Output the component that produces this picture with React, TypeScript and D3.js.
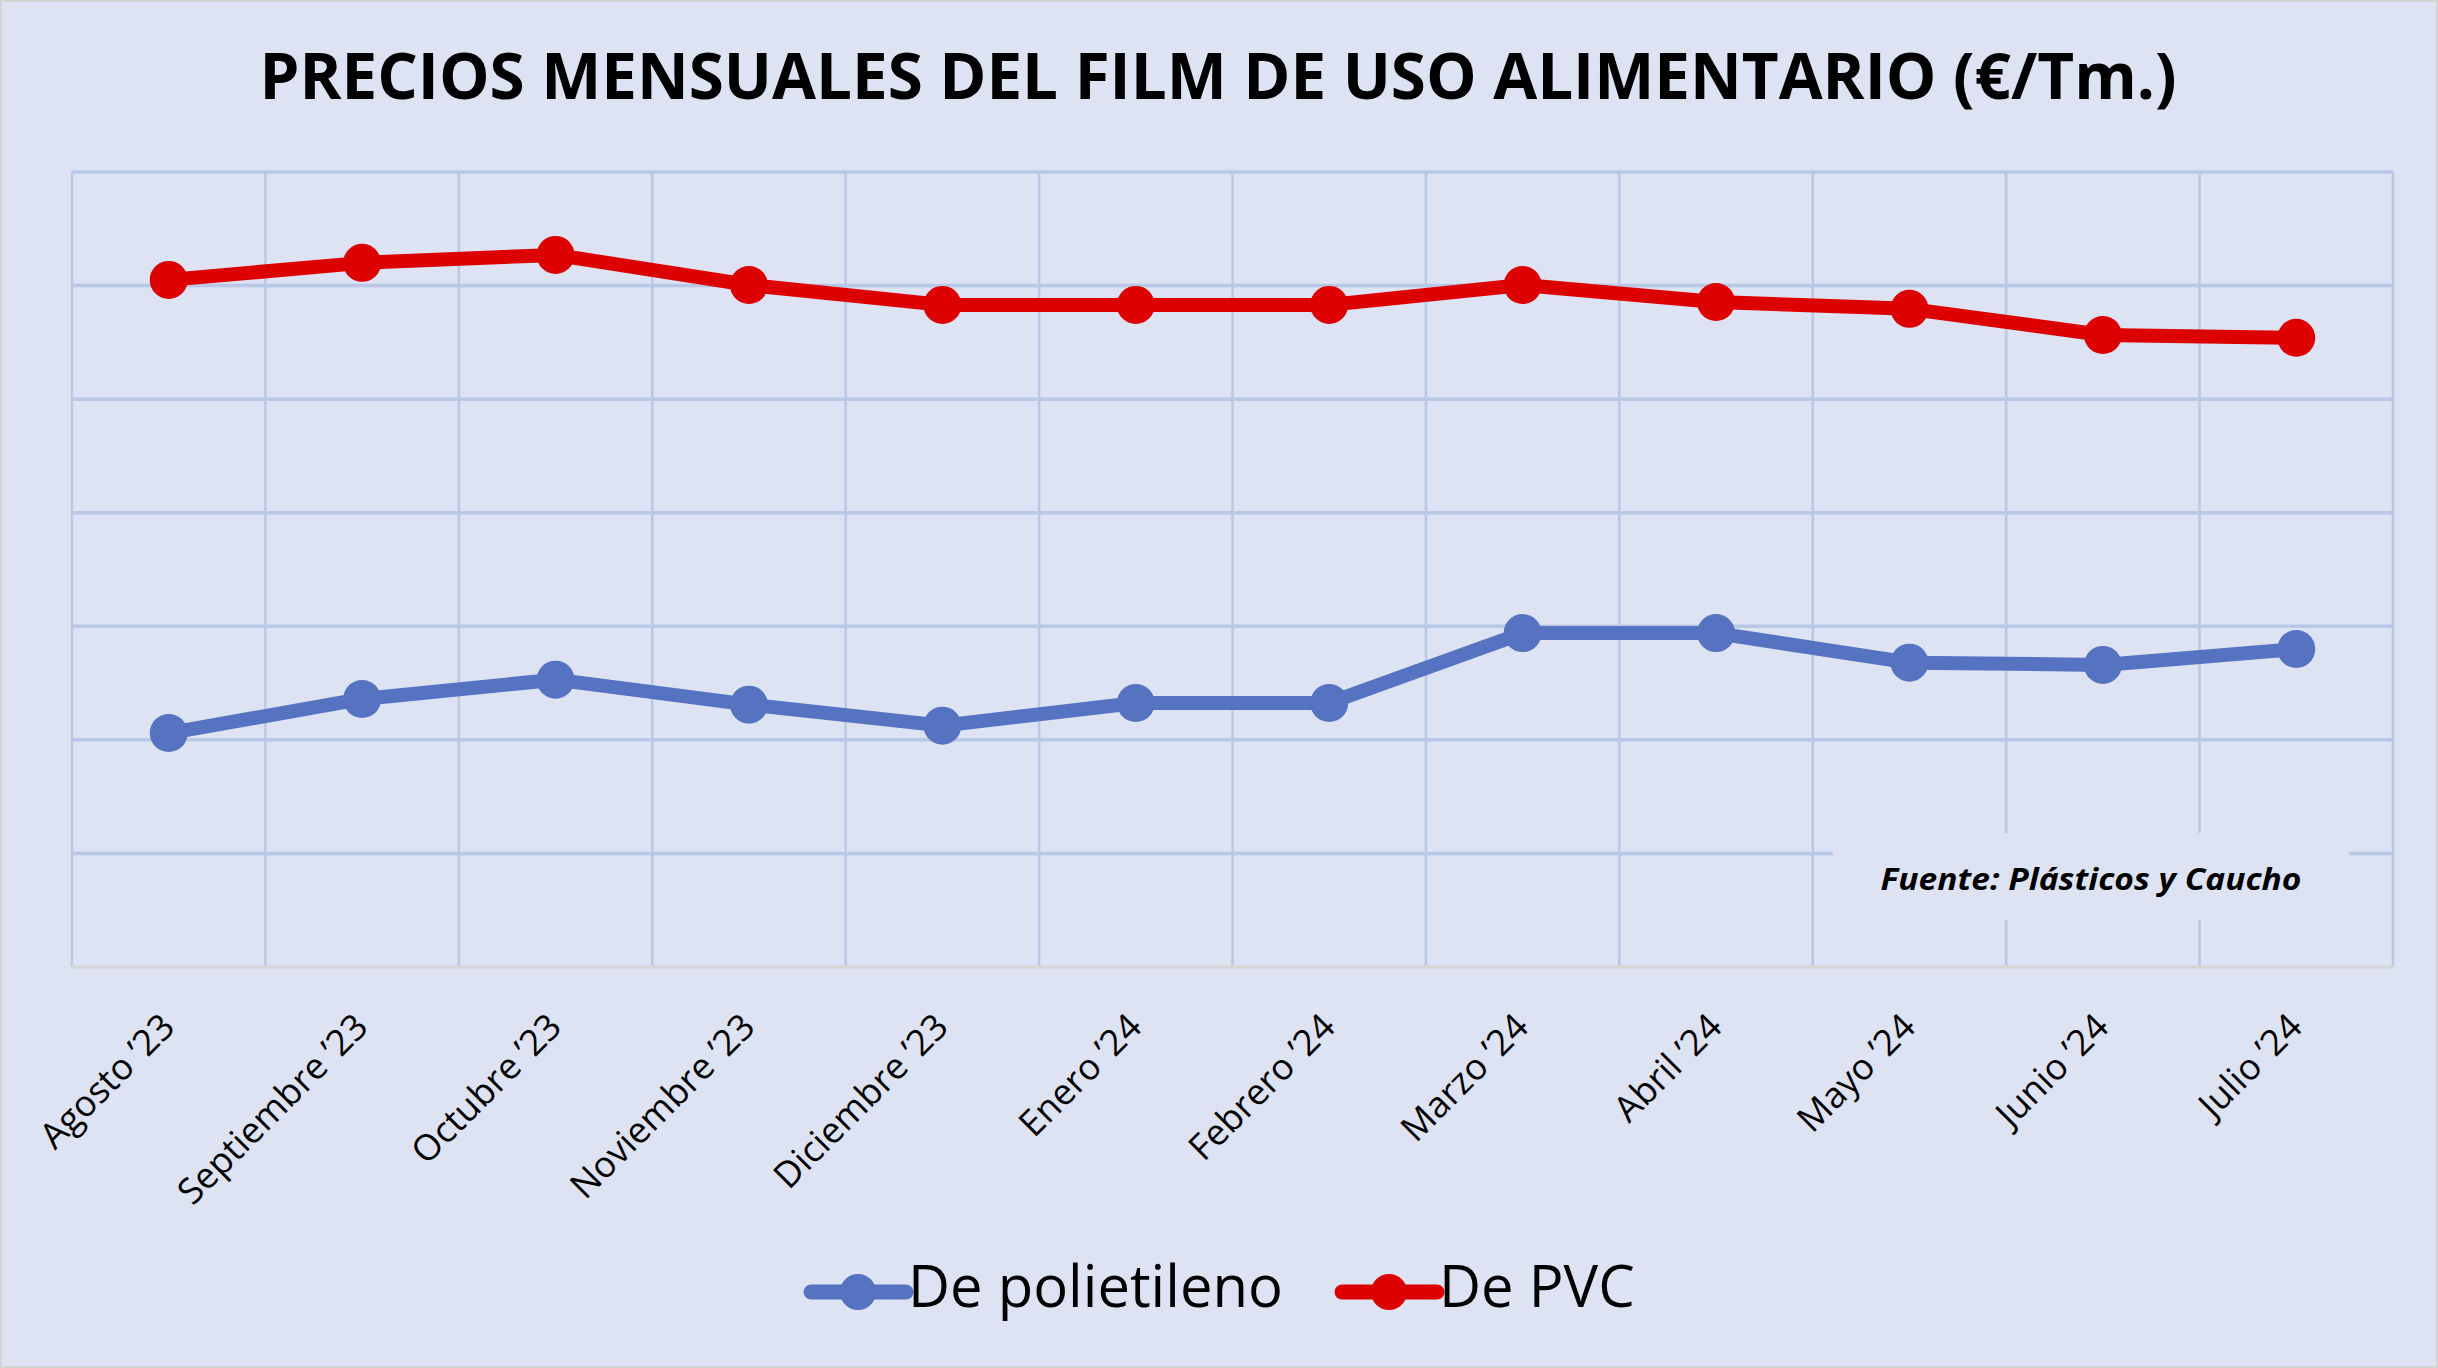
import React, { useRef, useEffect } from "react";
import * as d3 from "d3";

const months = [
  "Agosto ’23", "Septiembre ’23", "Octubre ’23", "Noviembre ’23", "Diciembre ’23",
  "Enero ’24", "Febrero ’24", "Marzo ’24", "Abril ’24", "Mayo ’24", "Junio ’24", "Julio ’24",
];

// (no y labels in the original, so scale is estimated)
const polietileno = [1812, 1872, 1906, 1862, 1825, 1865, 1865, 1988, 1988, 1936, 1932, 1960];
const pvc = [2610, 2640, 2654, 2601, 2566, 2566, 2566, 2601, 2571, 2559, 2513, 2508];

const yTicks = [1400, 1600, 1800, 2000, 2200, 2400, 2600, 2800];

const seriesNames = ["De polietileno", "De PVC"];
const seriesColors = ["#5673c1", "#dd0000"];

const BG = "#dde3f2";
const GRID = "#b8c8e6";

const App = () => {
  const svgRef = useRef(null);

  useEffect(() => {
    if (!svgRef.current) return;

    const width = 2438;
    const height = 1368;
    const margin = { top: 172, right: 45, bottom: 401, left: 72 };

    const svg = d3.select(svgRef.current).attr("width", width).attr("height", height);
    svg.selectAll("*").remove();

    svg.append("rect")
      .attr("x", 1).attr("y", 1)
      .attr("width", width - 2).attr("height", height - 2)
      .attr("fill", BG)
      .attr("stroke", "#d4d4d4")
      .attr("stroke-width", 2);

    const x = d3.scaleBand().domain(months).range([margin.left, width - margin.right]).padding(0);
    const y = d3.scaleLinear().domain([yTicks[0], yTicks[yTicks.length - 1]]).range([height - margin.bottom, margin.top]);

    const grid = svg.append("g");

    // vertical gridlines on the category boundaries
    const bounds = months.map((m) => x(m)).concat([x.range()[1]]);
    grid.selectAll("line.v")
      .data(bounds)
      .enter()
      .append("line")
      .attr("x1", (d) => d).attr("x2", (d) => d)
      .attr("y1", y.range()[1]).attr("y2", y.range()[0])
      .attr("stroke", GRID)
      .attr("stroke-width", 2.5);

    grid.selectAll("line.h")
      .data(yTicks.slice(1))
      .enter()
      .append("line")
      .attr("x1", x.range()[0]).attr("x2", x.range()[1])
      .attr("y1", (d) => y(d)).attr("y2", (d) => y(d))
      .attr("stroke", GRID)
      .attr("stroke-width", 3.5);

    // category axis
    svg.append("line")
      .attr("x1", x.range()[0]).attr("x2", x.range()[1])
      .attr("y1", y(yTicks[0])).attr("y2", y(yTicks[0]))
      .attr("stroke", "#d6d6d6")
      .attr("stroke-width", 3.5);

    svg.append("g")
      .selectAll("text")
      .data(months)
      .enter()
      .append("text")
      .attr("transform", (d) => `translate(${x(d) + x.bandwidth() / 2 + 8}, ${y(yTicks[0]) + 62}) rotate(-45)`)
      .attr("text-anchor", "end")
      .style("font-family", "'Open Sans', sans-serif")
      .style("font-size", "36px")
      .style("fill", "#000")
      .text((d) => d);

    // source note sits on a patch that hides the grid
    const note = svg.append("g");
    note.append("rect")
      .attr("x", 1833).attr("y", 833)
      .attr("width", 516).attr("height", 87)
      .attr("fill", BG);
    note.append("text")
      .attr("x", 2091).attr("y", 890)
      .attr("text-anchor", "middle")
      .attr("textLength", 421)
      .attr("lengthAdjust", "spacingAndGlyphs")
      .style("font-family", "'Open Sans', sans-serif")
      .style("font-size", "31px")
      .style("font-weight", 700)
      .style("font-style", "italic")
      .text("Fuente: Plásticos y Caucho");

    const line = d3.line<number>()
      .x((d, i) => x(months[i]) + x.bandwidth() / 2)
      .y((d) => y(d));

    [polietileno, pvc].forEach((values, s) => {
      const g = svg.append("g");
      g.append("path")
        .datum(values)
        .attr("d", line)
        .attr("fill", "none")
        .attr("stroke", seriesColors[s])
        .attr("stroke-width", 14)
        .attr("stroke-linejoin", "round");
      g.selectAll("circle")
        .data(values)
        .enter()
        .append("circle")
        .attr("cx", (d, i) => x(months[i]) + x.bandwidth() / 2)
        .attr("cy", (d) => y(d))
        .attr("r", 19)
        .attr("fill", seriesColors[s]);
    });

    // title
    svg.append("text")
      .attr("x", 1218).attr("y", 99)
      .attr("text-anchor", "middle")
      .attr("textLength", 1917)
      .attr("lengthAdjust", "spacingAndGlyphs")
      .style("font-family", "'Open Sans', sans-serif")
      .style("font-size", "65px")
      .style("font-weight", 700)
      .text("PRECIOS MENSUALES DEL FILM DE USO ALIMENTARIO (€/Tm.)");

    // legend
    const legendX = [811, 1342];
    const legend = svg.append("g");
    seriesNames.forEach((name, s) => {
      const lg = legend.append("g").attr("transform", `translate(${legendX[s]}, 1292)`);
      lg.append("line")
        .attr("x1", 0).attr("x2", 95)
        .attr("stroke", seriesColors[s])
        .attr("stroke-width", 15)
        .attr("stroke-linecap", "round");
      lg.append("circle").attr("cx", 47).attr("r", 18).attr("fill", seriesColors[s]);
      lg.append("text")
        .attr("x", 97).attr("y", 15)
        .style("font-family", "'Open Sans', sans-serif")
        .style("font-size", "58px")
        .text(name);
    });
  }, []);

  return (
    <div style={{ position: "absolute", left: 0, top: 0 }}>
      <svg ref={svgRef} style={{ display: "block" }} />
    </div>
  );
};

export default App;
